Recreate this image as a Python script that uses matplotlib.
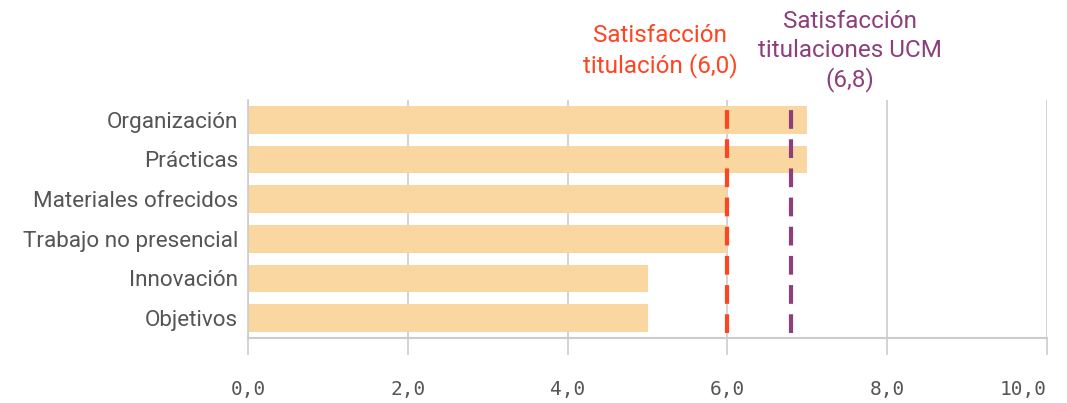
import matplotlib.pyplot as plt
import matplotlib.transforms as mtransforms

categorias = ['Organización', 'Prácticas', 'Materiales ofrecidos',
              'Trabajo no presencial', 'Innovación', 'Objetivos']
valores = [7.0, 7.0, 6.0, 6.0, 5.0, 5.0]
media_titulacion = 6.0
media_ucm = 6.8
ticks_x = [0, 2, 4, 6, 8, 10]
etiquetas_x = ['0,0', '2,0', '4,0', '6,0', '8,0', '10,0']

fig = plt.figure(figsize=(10.67, 4.03), dpi=100)
ax = fig.add_axes([0.2324, 0.1613, 0.7489, 0.5906])

pos = list(range(len(categorias)))
ax.barh(pos, valores, height=0.7, color='#FAD6A0', zorder=2)
ax.set_ylim(len(categorias) - 0.5, -0.5)
ax.set_xlim(0, 10)

ax.set_yticks(pos)
ax.set_yticklabels(categorias, fontsize=16.2, color='#555555', family='Roboto')
ax.tick_params(axis='y', length=0, pad=7)

ax.set_xticks(ticks_x)
ax.set_xticklabels(etiquetas_x, fontsize=14, color='#555555', family='DejaVu Sans Mono')
ax.get_xticklabels()[-1].set_ha('right')
ax.tick_params(axis='x', length=12, width=1.2, color='#cccccc', pad=18)

ax.grid(axis='x', color='#cccccc', linewidth=1.2, zorder=0)
for s in ['top', 'right']:
    ax.spines[s].set_visible(False)
ax.spines['left'].set_color('#cccccc')
ax.spines['left'].set_linewidth(1.2)
ax.spines['bottom'].set_color('#cccccc')
ax.spines['bottom'].set_linewidth(1.5)

rojo = '#FF4422'
morado = '#8C3F7C'
ax.axvline(media_titulacion, ymin=0.02, ymax=1, color=rojo, linewidth=3,
           dashes=(4.5, 2.5), zorder=3)
ax.axvline(media_ucm, ymin=0.02, ymax=1, color=morado, linewidth=3,
           dashes=(4.5, 2.5), zorder=3)

trans = mtransforms.blended_transform_factory(ax.transData, ax.transAxes)
ax.text(5.16, 1.205, 'Satisfacción\ntitulación (6,0)', transform=trans,
        ha='center', va='center', fontsize=17.5, color=rojo, family='Roboto',
        linespacing=1.3)
ax.text(7.53, 1.205, 'Satisfacción\ntitulaciones UCM\n(6,8)', transform=trans,
        ha='center', va='center', fontsize=17.5, color=morado, family='Roboto',
        linespacing=1.3)

fig.savefig('out.png', dpi=100)
